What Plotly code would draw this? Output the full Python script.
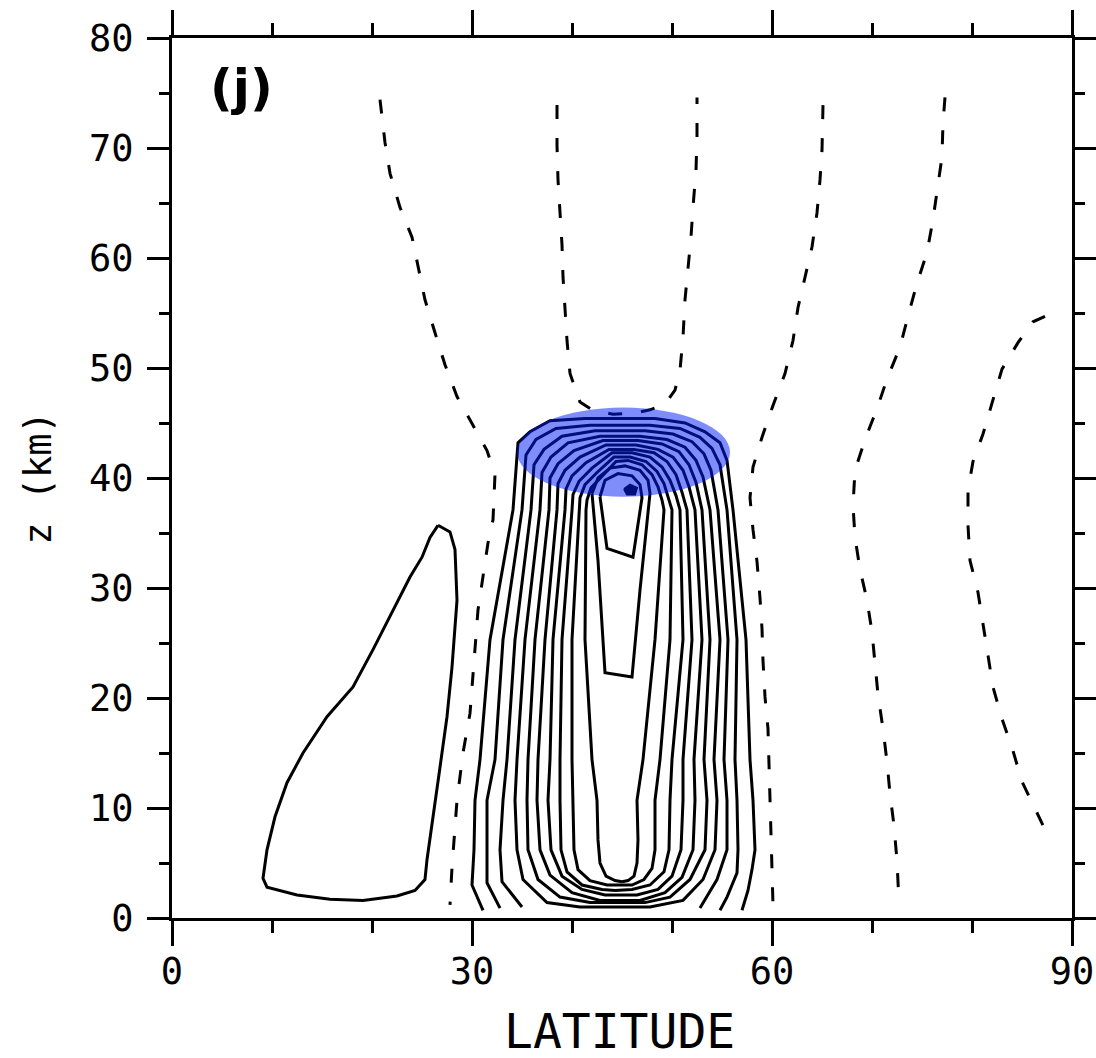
import plotly.graph_objects as go

# ---- axis ticks -------------------------------------------------------------
LAT_TICKS = [0, 30, 60, 90]
LAT_MINOR_TICKS = [10, 20, 40, 50, 70, 80]
Z_TICKS = [0, 10, 20, 30, 40, 50, 60, 70, 80]
Z_MINOR_TICKS = [5, 15, 25, 35, 45, 55, 65, 75]

# ---- solid contours (latitude, z km) ----------------------------------------
arch_0 = [(31.1, 0.7), (30.0, 3.0), (30.2, 6.2), (30.3, 10.7), (30.8, 14.4), (31.8, 25.3),
          (34.1, 37.1), (34.6, 43.2), (35.8, 44.2), (37.8, 45.2), (41.3, 45.4), (48.3, 45.4),
          (51.3, 45.0), (53.3, 44.2), (54.8, 43.2), (55.5, 41.6), (56.1, 37.1), (57.4, 25.3),
          (57.8, 14.4), (58.1, 10.7), (58.3, 6.2), (58.0, 4.4), (57.6, 2.5), (57.0, 0.7)]
arch_1 = [(32.8, 0.9), (31.5, 3.2), (31.5, 6.2), (31.5, 10.7), (32.3, 14.4), (33.1, 25.3),
          (35.0, 37.1), (35.4, 42.1), (36.4, 43.5), (38.4, 44.5), (41.8, 44.8), (47.8, 44.8),
          (50.8, 44.5), (52.8, 43.7), (54.0, 42.7), (54.8, 41.2), (55.5, 37.1), (56.5, 25.3),
          (56.3, 14.4), (56.5, 10.7), (56.6, 6.2), (56.5, 4.1), (55.5, 1.9), (54.8, 0.7)]
arch_2 = [(35.0, 1.0), (33.0, 3.3), (32.8, 6.2), (33.1, 10.7), (33.5, 14.4), (34.3, 25.3),
          (35.9, 37.1), (36.2, 41.2), (37.2, 42.6), (39.0, 43.8), (42.3, 44.3), (47.3, 44.3),
          (50.1, 44.0), (52.0, 43.3), (53.2, 42.2), (53.9, 40.7), (54.6, 37.1), (55.6, 25.3),
          (55.2, 14.4), (55.5, 10.7), (55.5, 6.2), (54.5, 3.5), (52.8, 0.9)]
arch_3 = [(44.3, 1.0), (40.8, 1.0), (37.5, 1.4), (35.1, 3.5), (34.5, 6.2), (34.3, 10.7),
          (34.5, 14.4), (35.3, 25.3), (36.8, 37.1), (37.0, 40.5), (37.9, 41.9), (39.6, 43.2),
          (42.8, 43.8), (46.8, 43.8), (49.5, 43.5), (51.3, 42.8), (52.4, 41.6), (53.1, 40.1),
          (53.8, 37.1), (54.8, 25.3), (54.2, 14.4), (54.5, 10.7), (54.3, 6.2), (53.1, 3.5),
          (51.1, 1.6), (47.8, 1.0), (44.3, 1.0)]
arch_4 = [(44.3, 1.4), (41.8, 1.4), (38.8, 1.9), (36.6, 3.5), (35.6, 6.2), (35.5, 10.7),
          (35.6, 14.4), (36.3, 25.3), (37.7, 37.1), (37.8, 40.0), (38.6, 41.3), (40.2, 42.5),
          (43.1, 43.4), (46.6, 43.4), (49.0, 43.1), (50.7, 42.4), (51.7, 41.2), (52.4, 39.6),
          (53.0, 37.1), (53.8, 25.3), (53.2, 14.4), (53.5, 10.7), (53.3, 6.2), (51.8, 3.5),
          (49.8, 1.9), (47.3, 1.4), (44.3, 1.4)]
arch_5 = [(44.3, 1.6), (42.8, 1.6), (40.0, 2.3), (37.8, 3.9), (36.8, 6.2), (36.5, 10.7),
          (36.6, 14.4), (37.3, 25.3), (38.5, 37.1), (38.6, 39.5), (39.3, 40.7), (40.8, 41.9),
          (43.4, 43.0), (46.4, 43.0), (48.6, 42.6), (50.1, 41.9), (51.1, 40.7), (51.7, 39.2),
          (52.3, 37.1), (53.0, 25.3), (52.2, 14.4), (52.3, 10.7), (52.1, 6.2), (51.0, 3.7),
          (49.3, 2.3), (46.8, 1.6), (44.3, 1.6)]
arch_6 = [(44.3, 2.1), (43.3, 2.1), (41.0, 2.6), (39.0, 3.8), (37.9, 6.2), (37.6, 10.7),
          (37.8, 14.4), (38.1, 25.3), (39.3, 37.1), (39.4, 39.0), (40.0, 40.2), (41.4, 41.4),
          (43.7, 42.6), (46.2, 42.6), (48.2, 42.3), (49.5, 41.5), (50.4, 40.3), (51.0, 38.7),
          (51.5, 37.1), (52.0, 25.3), (51.1, 14.4), (51.1, 10.7), (50.9, 6.2), (50.0, 3.8),
          (48.6, 2.6), (46.5, 2.1), (44.3, 2.1)]
arch_7 = [(44.3, 2.5), (43.0, 2.6), (41.0, 3.0), (39.5, 4.2), (38.9, 6.2), (38.8, 10.7),
          (38.8, 14.4), (39.0, 25.3), (40.0, 37.1), (40.1, 38.5), (40.7, 39.7), (42.0, 40.9),
          (44.0, 42.3), (46.0, 42.3), (47.8, 41.9), (49.0, 41.0), (49.8, 39.8), (50.4, 38.4),
          (50.8, 37.1), (51.1, 25.3), (50.0, 14.4), (49.8, 10.7), (49.7, 6.2), (49.2, 4.2),
          (47.8, 3.0), (46.0, 2.6), (44.3, 2.5)]
arch_8 = [(44.8, 3.0), (43.5, 3.0), (41.8, 3.4), (40.6, 4.4), (40.2, 6.2), (40.1, 10.7),
          (40.0, 14.4), (40.0, 25.3), (40.7, 37.1), (40.8, 38.2), (41.3, 39.4), (42.5, 40.5),
          (44.2, 41.9), (45.8, 41.9), (47.4, 41.5), (48.5, 40.6), (49.2, 39.5), (49.7, 38.1),
          (50.0, 37.1), (49.8, 25.3), (48.8, 14.4), (48.3, 10.7), (48.3, 6.2), (48.0, 4.5),
          (47.2, 3.5), (46.0, 3.0), (44.8, 3.0)]
arch_9 = [(45.0, 3.3), (44.3, 3.4), (43.4, 3.8), (42.8, 5.0), (42.6, 7.1), (42.5, 10.7),
          (42.0, 14.4), (41.3, 25.3), (41.4, 37.1), (41.5, 38.0), (41.9, 39.1), (43.0, 40.2),
          (44.4, 41.5), (45.6, 41.6), (47.0, 41.2), (48.0, 40.3), (48.6, 39.2), (49.0, 38.0),
          (49.2, 37.1), (48.3, 25.3), (47.1, 14.4), (46.5, 10.7), (46.6, 7.1), (46.5, 5.0),
          (46.2, 3.8), (45.6, 3.4), (45.0, 3.3)]
tongue_long = [(42.0, 38.6), (42.6, 32.5), (43.3, 22.3), (46.0, 21.9), (46.8, 29.8), (47.8, 38.6),
               (47.6, 39.8), (46.8, 40.7), (45.3, 41.1), (43.8, 40.9), (42.6, 40.0), (42.0, 38.6)]
tongue_short = [(42.8, 38.3), (43.5, 33.6), (46.1, 32.8), (47.0, 38.2), (46.8, 39.4),
                (46.0, 40.2), (44.6, 40.4), (43.3, 39.8), (42.8, 38.3)]
core_max = [(45.2, 39.0), (45.8, 39.4), (46.5, 39.1), (46.3, 38.5), (45.5, 38.5), (45.2, 39.0)]
loop_low_lat = [(26.6, 35.7), (27.8, 35.1), (28.3, 33.5), (28.5, 28.9), (28.0, 22.8), (27.5, 18.3),
                (26.8, 13.7), (26.1, 9.2), (25.5, 5.3), (25.3, 3.5), (24.3, 2.5), (22.5, 2.0),
                (19.1, 1.6), (15.8, 1.7), (12.5, 2.1), (9.5, 2.8), (9.1, 3.6), (9.5, 6.2),
                (10.3, 9.2), (11.5, 12.3), (13.1, 15.0), (15.5, 18.3), (18.1, 21.0), (20.1, 24.4),
                (22.1, 28.0), (23.8, 31.0), (25.0, 32.8), (25.8, 34.6), (26.6, 35.7)]

# ---- dashed (negative) contours ---------------------------------------------
neg_a = [(20.8, 74.4), (21.3, 70.5), (21.8, 67.7), (22.8, 64.6), (24.0, 61.9), (24.6, 59.2),
         (25.3, 56.2), (26.3, 53.2), (27.3, 50.3), (28.5, 47.4), (30.0, 45.0), (31.5, 42.5),
         (32.3, 40.3), (32.1, 36.2), (31.6, 34.1), (30.6, 28.0), (29.8, 18.6), (29.1, 15.0),
         (28.5, 10.7), (28.0, 4.6), (27.8, 1.2)]
neg_b = [(38.5, 73.9), (38.5, 70.3), (38.6, 67.1), (38.8, 64.1), (39.0, 61.2), (39.1, 58.3),
         (39.3, 55.5), (39.5, 52.5), (39.8, 49.5), (40.8, 46.9), (42.0, 46.2), (44.1, 45.8),
         (46.3, 45.9), (47.8, 46.2), (49.3, 46.7), (50.3, 48.0), (50.8, 49.8), (51.1, 52.8),
         (51.3, 56.2), (51.6, 58.9), (51.9, 61.9), (52.1, 64.6), (52.4, 68.0), (52.5, 71.0),
         (52.5, 74.6)]
neg_c = [(65.1, 73.9), (65.0, 69.8), (64.8, 67.1), (64.5, 64.1), (64.0, 61.0), (63.3, 58.3),
         (62.6, 55.5), (62.1, 52.5), (61.3, 49.5), (60.1, 46.6), (59.0, 43.7), (58.1, 41.0),
         (57.8, 38.2), (58.1, 35.3), (58.5, 32.4), (58.8, 29.1), (59.0, 26.3), (59.1, 23.4),
         (59.3, 20.1), (59.6, 17.2), (59.7, 14.4), (59.8, 11.5), (59.9, 8.2), (60.0, 5.3),
         (60.1, 1.2)]
neg_d = [(77.3, 74.6), (77.1, 72.3), (77.0, 69.2), (76.6, 66.5), (76.1, 63.5), (75.5, 60.5),
         (74.5, 57.7), (73.6, 54.7), (72.8, 51.9), (71.5, 49.0), (70.5, 46.3), (69.3, 43.5),
         (68.3, 40.7), (68.1, 37.5), (68.3, 34.6), (68.8, 31.7), (69.5, 28.9), (70.0, 26.0),
         (70.3, 23.1), (70.6, 20.3), (71.1, 17.2), (71.5, 14.2), (71.8, 11.3), (72.2, 8.4),
         (72.5, 5.2), (72.7, 1.4)]
neg_e = [(87.3, 54.7), (86.1, 54.2), (84.6, 52.3), (83.0, 49.9), (82.0, 46.8), (81.1, 44.0),
         (80.1, 41.5), (79.6, 38.9), (79.6, 35.7), (79.8, 32.5), (80.6, 29.6), (81.1, 26.7),
         (81.6, 23.8), (82.1, 21.0), (83.0, 18.1), (84.1, 15.2), (85.0, 12.4), (86.3, 10.0),
         (87.8, 7.1)]

# highlighted region around the upper maximum (lat range, z range)
HIGHLIGHT_LAT = (34.5, 55.8)
HIGHLIGHT_Z = (38.3, 46.4)

SOLID = [arch_0, arch_1, arch_2, arch_3, arch_4, arch_5, arch_6, arch_7, arch_8, arch_9,
         tongue_long, tongue_short, loop_low_lat]
DASHED = [neg_a, neg_b, neg_c, neg_d, neg_e]

MONO = "DejaVu Sans Mono"

fig = go.Figure()

for line in SOLID:
    fig.add_trace(go.Scatter(
        x=[p[0] for p in line], y=[p[1] for p in line], mode="lines",
        line=dict(color="black", width=3), hoverinfo="skip"))

fig.add_trace(go.Scatter(
    x=[p[0] for p in core_max], y=[p[1] for p in core_max], mode="lines",
    fill="toself", fillcolor="black", line=dict(color="black", width=2), hoverinfo="skip"))

for line in DASHED:
    fig.add_trace(go.Scatter(
        x=[p[0] for p in line], y=[p[1] for p in line], mode="lines",
        line=dict(color="black", width=3, dash="14px,19px"), hoverinfo="skip"))

fig.add_shape(type="circle", xref="x", yref="y",
              x0=HIGHLIGHT_LAT[0], x1=HIGHLIGHT_LAT[1], y0=HIGHLIGHT_Z[0], y1=HIGHLIGHT_Z[1],
              fillcolor="rgba(0, 28, 245, 0.5)", line=dict(width=0), layer="above")

fig.add_annotation(text="<b>(j)</b>", xref="paper", yref="paper", x=0.077, y=0.943,
                   xanchor="center", yanchor="middle", showarrow=False,
                   font=dict(family="DejaVu Sans", size=50, color="black"))

# x-axis title placed as a paper annotation below the tick labels
fig.add_annotation(text="LATITUDE", xref="paper", yref="paper", x=0.497, y=-0.128,
                   xanchor="center", yanchor="middle", showarrow=False,
                   font=dict(family=MONO, size=48, color="black"))

axis_common = dict(showline=True, linewidth=3, linecolor="black", mirror="ticks",
                   ticks="outside", tickwidth=3, tickcolor="black", showgrid=False,
                   zeroline=False, automargin=False,
                   tickfont=dict(family=MONO, size=37, color="black"))

fig.update_xaxes(range=[0, 90], tickmode="array", tickvals=LAT_TICKS,
                 ticktext=[str(v) for v in LAT_TICKS], ticklen=25, ticklabelstandoff=-6,
                 minor=dict(tickmode="array", tickvals=LAT_MINOR_TICKS, ticklen=12,
                            tickwidth=2.5, tickcolor="black", ticks="outside"),
                 **axis_common)
fig.update_yaxes(range=[0, 80], tickmode="array", tickvals=Z_TICKS,
                 ticktext=[str(v) for v in Z_TICKS], ticklen=22, ticklabelstandoff=6,
                 minor=dict(tickmode="array", tickvals=Z_MINOR_TICKS, ticklen=10,
                            tickwidth=2.5, tickcolor="black", ticks="outside"),
                 title=dict(text="z (km)", font=dict(family=MONO, size=37, color="black"),
                            standoff=27),
                 **axis_common)

fig.update_layout(width=1096, height=1058, margin=dict(l=172, r=24, t=38, b=140),
                  plot_bgcolor="white", paper_bgcolor="white", showlegend=False)

fig.write_html("out.html")
